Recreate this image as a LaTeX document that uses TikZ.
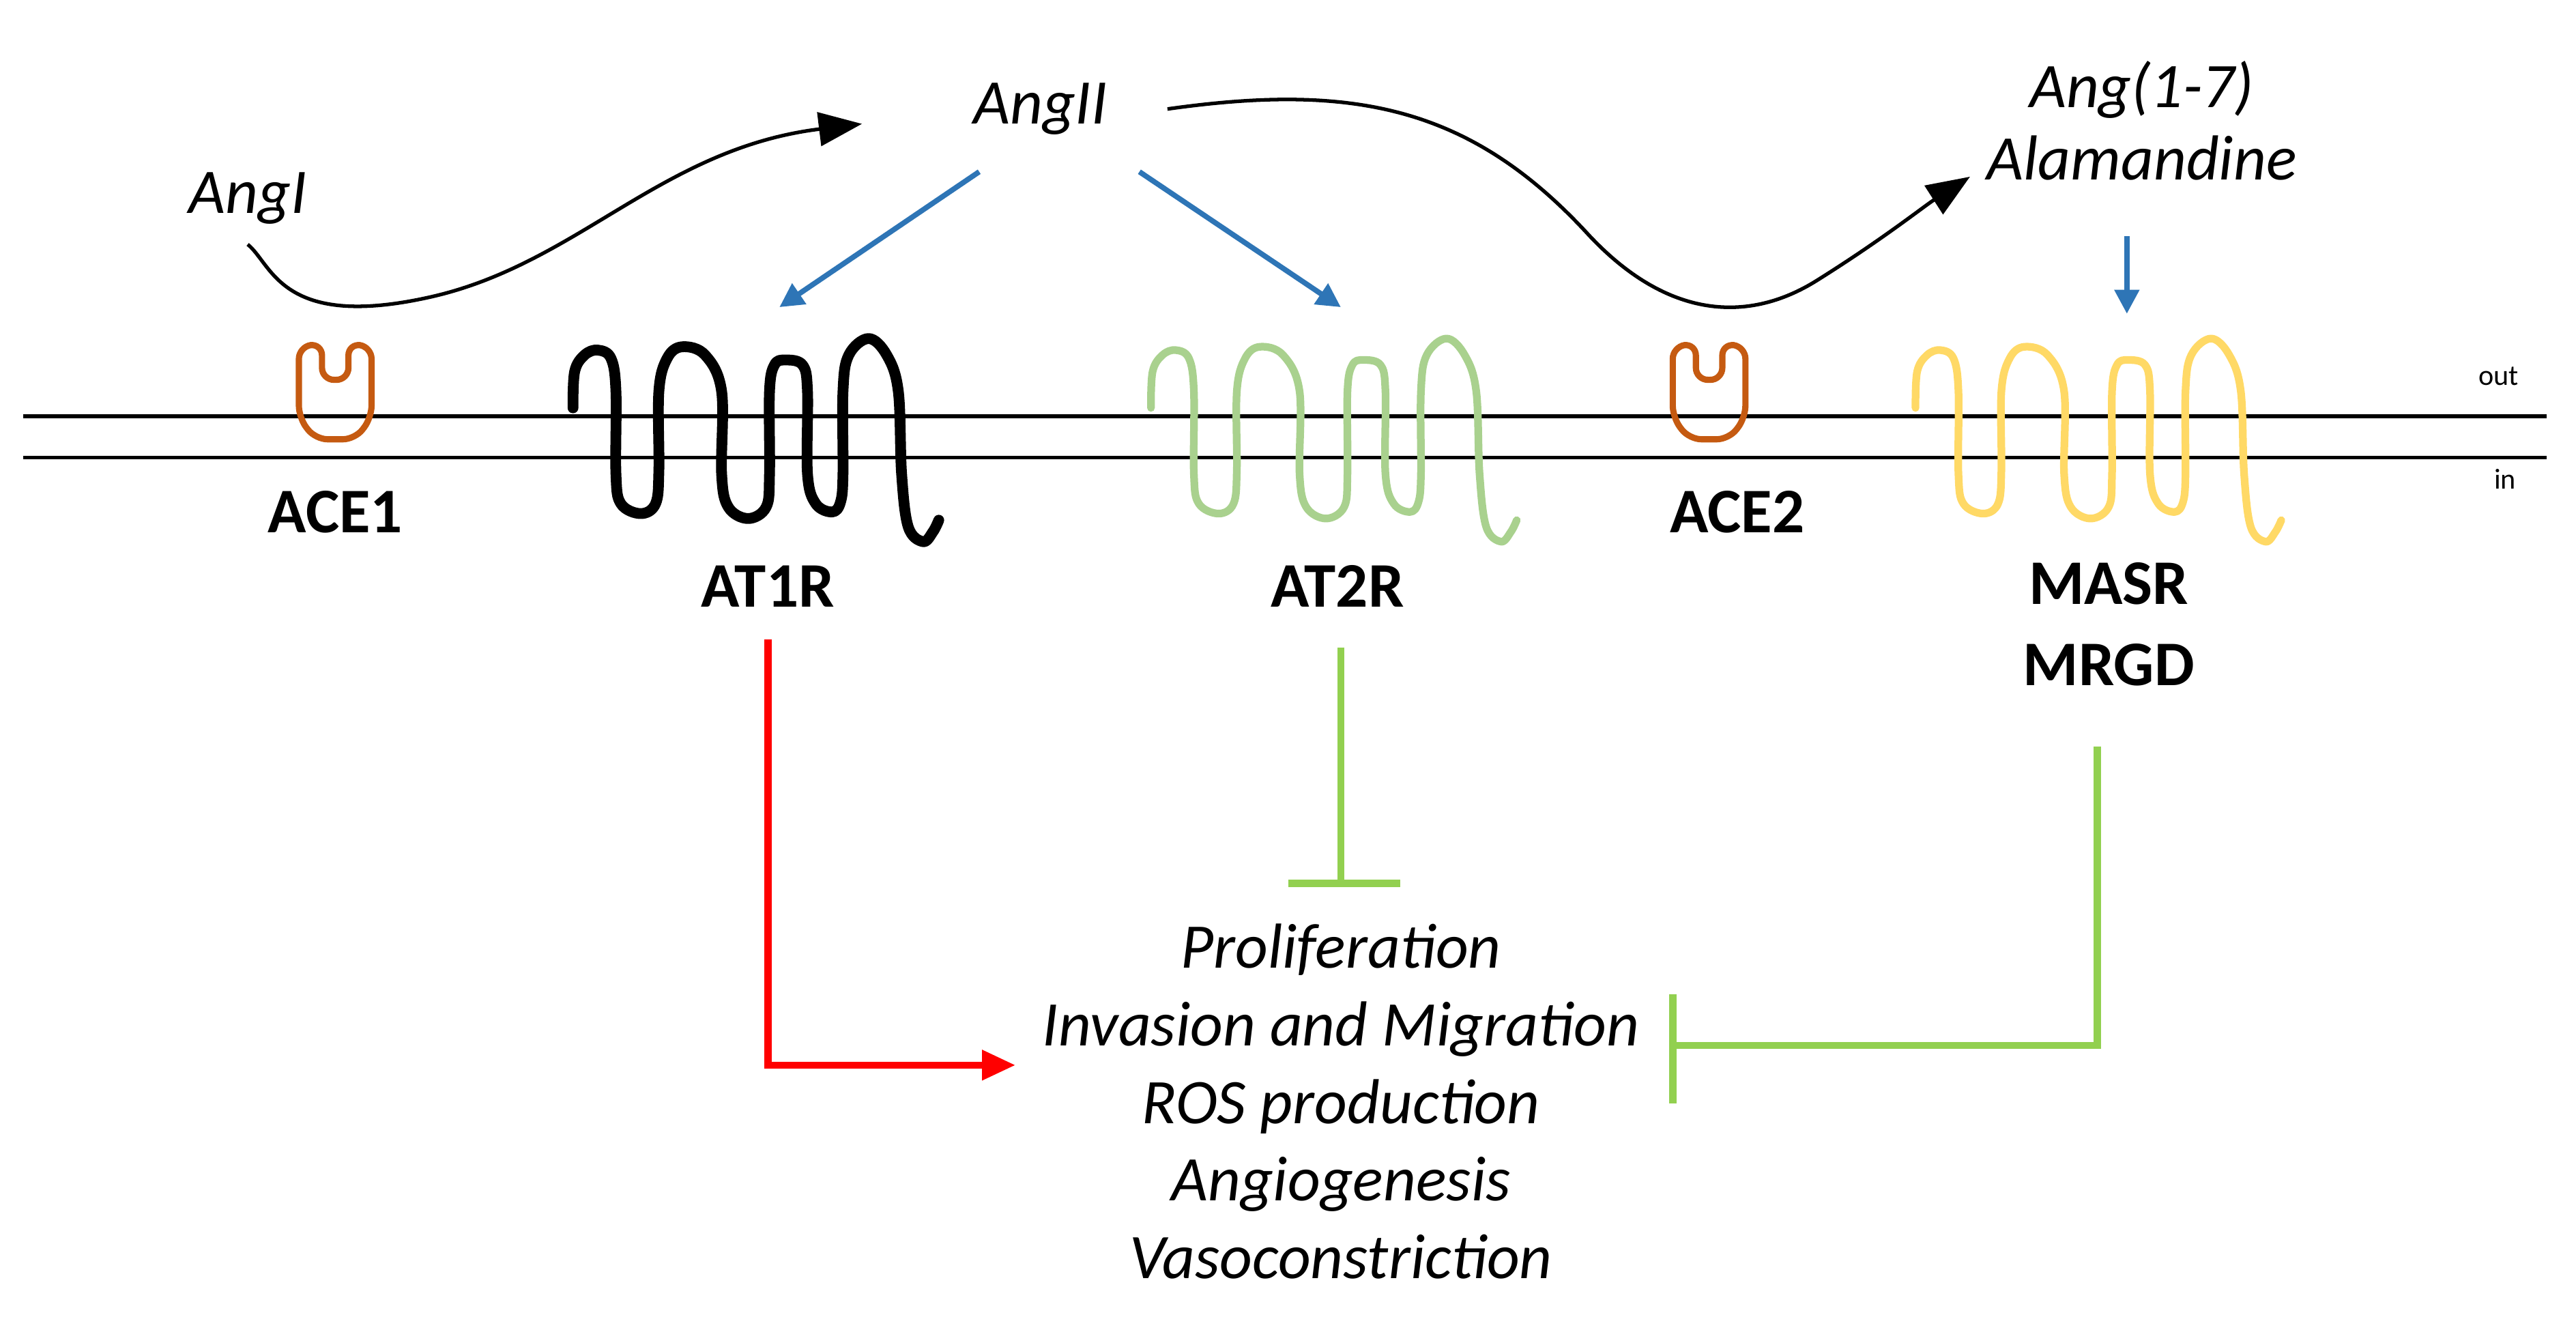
\documentclass[tikz,border=0pt]{standalone}
\usepackage{fontspec}
\setmainfont{Carlito}
\usetikzlibrary{arrows.meta}
\definecolor{ora}{HTML}{C55A11}
\definecolor{grn}{HTML}{A9D18E}
\definecolor{grn2}{HTML}{92D050}
\definecolor{yel}{HTML}{FFD966}
\definecolor{blu}{HTML}{2E75B6}
\tikzset{
 lab/.style={font=\fontsize{26.5}{30}\selectfont\bfseries},
 itl/.style={font=\fontsize{26.5}{30}\selectfont\itshape},
 bluearr/.style={blu,line width=2.2pt,-{Triangle[length=10pt,width=10pt]}},
 blackcurve/.style={black,line width=1.5pt,-{Triangle[length=18pt,width=14pt]}},
 cup/.pic={\draw[ora,line width=2.6pt,rounded corners=5pt] (-8,0) -- (-22,2) -- (-22,45) -- (-12,58) -- (12,58) -- (22,45) -- (22,2) -- (8,0) -- (8,22) -- (-8,22) -- cycle;},
 receptor/.pic={\draw[line width=\pgfkeysvalueof{/tikz/rw},line cap=round,line join=round] plot[smooth,tension=0.6] coordinates {(0,40) (1,18) (7,8) (15,5) (23,10) (26,30) (26,80) (29,98) (41,104) (50,98) (52,78) (52,30) (57,10) (66,3) (80,8) (90,30) (90,80) (94,100) (106,107) (117,100) (119,80) (119,30) (122,14) (128.5,11) (139,14) (142,30) (142,80) (147,98) (157,103) (162,97) (163.5,80) (163.5,30) (167,8) (179,-2) (190,8) (197,30) (199,80) (203,112) (212,121) (218,115) (221.5,108)};},
 rw/.initial=3pt
}
\begin{document}
\begin{tikzpicture}[x=0.0242cm,y=-0.0242cm]
\useasboundingbox (0,0) rectangle (1560,805);
% membrane
\draw[line width=1.6pt] (14,252) -- (1542,252);
\draw[line width=1.6pt] (14,277) -- (1542,277);
\node[font=\fontsize{12}{14}\selectfont] (out) at (1513,228) {out};
\node[font=\fontsize{12}{14}\selectfont] (in) at (1517,290) {in};
% enzymes
\pic at (203,208) {cup};
\pic at (1035,208) {cup};
\node[lab] (ace1) at (203,310) {ACE1};
\node[lab] (ace2) at (1052,310) {ACE2};
% receptors
\pic[black,rw=4.5pt] at (347,207) {receptor};
\pic[grn,rw=3.2pt] at (697,207) {receptor};
\pic[yel,rw=3.2pt] at (1160,207) {receptor};
\node[lab] (at1r) at (465,355) {AT1R};
\node[lab] (at2r) at (810,355) {AT2R};
\node[lab,align=center] (masr) at (1277,378) {MASR\\[4pt]MRGD};
% ligands
\node[itl] (angI) at (150,120) {AngI};
\node[itl] (angII) at (630,66) {AngII};
\node[itl,align=center] (ang17) at (1297,73) {Ang(1-7)\\Alamandine};
\coordinate (c1s) at (150,148);
\coordinate (c1e) at (522,75);
\coordinate (c2s) at (707,66);
\coordinate (c2e) at (1193,107);
\draw[blackcurve] (c1s) .. controls (165,160) and (170,200) .. (260,180) .. controls (350,160) and (400,90) .. (c1e);
\draw[blackcurve] (c2s) .. controls (820,50) and (890,65) .. (960,140) .. controls (1010,195) and (1060,195) .. (1100,170) .. controls (1140,145) and (1165,125) .. (c2e);
% blue arrows
\coordinate (b1s) at (593,104); \coordinate (b1e) at (472,186);
\coordinate (b2s) at (690,104); \coordinate (b2e) at (812,186);
\coordinate (b3s) at (1288,143); \coordinate (b3e) at (1288,190);
\draw[bluearr] (b1s) -- (b1e);
\draw[bluearr] (b2s) -- (b2e);
\draw[bluearr] (b3s) -- (b3e);
% effects
\node[align=center,font=\fontsize{26.5}{32.4}\selectfont\itshape] (eff) at (812,667) {Proliferation\\Invasion and Migration\\ROS production\\Angiogenesis\\Vasoconstriction};
\coordinate (r1) at (465,387); \coordinate (r2) at (465,645); \coordinate (r3) at (615,645);
\draw[red,line width=3pt,-{Triangle[length=14pt,width=12pt]}] (r1) -- (r2) -- (r3);
\coordinate (g1) at (812,392); \coordinate (g2) at (812,535);
\draw[grn2,line width=3pt] (g1) -- (g2);
\draw[grn2,line width=3pt] (780,535) -- (848,535);
\coordinate (h1) at (1270,452); \coordinate (h2) at (1270,633); \coordinate (h3) at (1013,633);
\draw[grn2,line width=3pt] (h1) -- (h2) -- (h3);
\draw[grn2,line width=3pt] (1013,602) -- (1013,668);
\end{tikzpicture}
\end{document}
